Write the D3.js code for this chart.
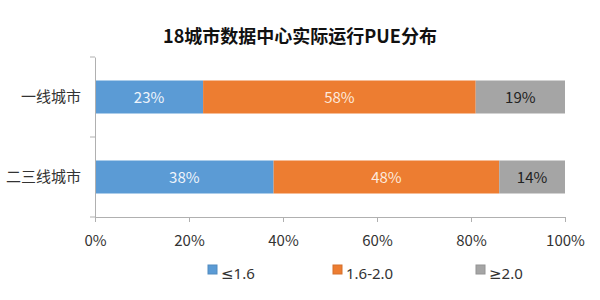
<!DOCTYPE html>
<html><head><meta charset="utf-8">
<script src="https://cdn.jsdelivr.net/npm/d3@7"></script>
<style>body{margin:0;background:#fff}svg{display:block}</style>
</head><body>
<svg id="c" width="600" height="300"></svg>
<script>
const categories = ["一线城市", "二三线城市"];
const seriesNames = ["≤1.6", "1.6-2.0", "≥2.0"];
const seriesLow = [23, 38];
const seriesMid = [58, 48];
const seriesHigh = [19, 14];
const tickValues = [0, 20, 40, 60, 80, 100];
const colors = ["#5B9BD5", "#ED7D31", "#A5A5A5"];
const labelColors = ["#eef4fb", "#fde9dc", "#222"];

const svg = d3.select("#c");
const font = "'Noto Sans CJK SC', 'Noto Sans', sans-serif";
const latinFont = "'Noto Sans', 'DejaVu Sans', sans-serif";
const x = d3.scaleLinear().domain([0, 100]).range([95, 565]);

svg.append("text").attr("x", 300).attr("y", 43).attr("text-anchor", "middle")
  .attr("font-family", font).attr("font-weight", "bold").attr("font-size", 18).attr("fill", "#111")
  .text("18城市数据中心实际运行PUE分布");

const rows = categories.map((c, i) => ({cat: c, vals: [seriesLow[i], seriesMid[i], seriesHigh[i]]}));
const stack = d3.stack().keys([0, 1, 2]).value((d, k) => d.vals[k]);
const stacked = stack(rows);

const yb = d3.scaleBand().domain(categories).range([57, 217]);
const barH = 33;

stacked.forEach((layer, k) => {
  const g = svg.append("g");
  g.selectAll("rect").data(layer).enter().append("rect")
    .attr("x", d => x(d[0])).attr("width", d => x(d[1]) - x(d[0]))
    .attr("y", d => yb(d.data.cat) + yb.bandwidth() / 2 - barH / 2).attr("height", barH)
    .attr("fill", colors[k]);
  g.selectAll("text").data(layer).enter().append("text")
    .attr("x", d => (x(d[0]) + x(d[1])) / 2)
    .attr("y", d => yb(d.data.cat) + yb.bandwidth() / 2 + 5.5)
    .attr("text-anchor", "middle").attr("font-family", font).attr("font-size", 15)
    .attr("fill", labelColors[k]).text(d => d.data.vals[k] + "%");
});

// y axis
const yAxis = svg.append("g").attr("transform", "translate(95,0)")
  .call(d3.axisLeft(yb).tickSize(0).tickPadding(14));
yAxis.select(".domain").attr("stroke", "#b0b0b0");
yAxis.selectAll("text").attr("font-family", font).attr("font-size", 15).attr("fill", "#333");
// category divider ticks
const bounds = [57, 137, 217];
svg.append("g").selectAll("line").data(bounds).enter().append("line")
  .attr("x1", 90).attr("x2", 95).attr("y1", d => d).attr("y2", d => d).attr("stroke", "#b0b0b0");

// x axis
const xAxis = svg.append("g").attr("transform", "translate(0,217)")
  .call(d3.axisBottom(x).tickValues(tickValues).tickSize(5).tickPadding(13).tickFormat(d => d + "%"));
xAxis.select(".domain").attr("stroke", "#b0b0b0");
xAxis.selectAll("line").attr("stroke", "#b0b0b0");
xAxis.selectAll("text").attr("font-family", font).attr("font-size", 15).attr("fill", "#333");

// legend
const legendX = [208, 333, 476];
const lg = svg.append("g");
seriesNames.forEach((n, k) => {
  lg.append("rect").attr("x", legendX[k]).attr("y", 265).attr("width", 9).attr("height", 9)
    .attr("fill", colors[k]).attr("stroke", d3.color(colors[k]).darker(0.3));
  lg.append("text").attr("x", legendX[k] + 13).attr("y", 279).attr("font-family", latinFont)
    .attr("font-size", 15).attr("fill", "#333").text(n);
});
</script>
</body></html>
